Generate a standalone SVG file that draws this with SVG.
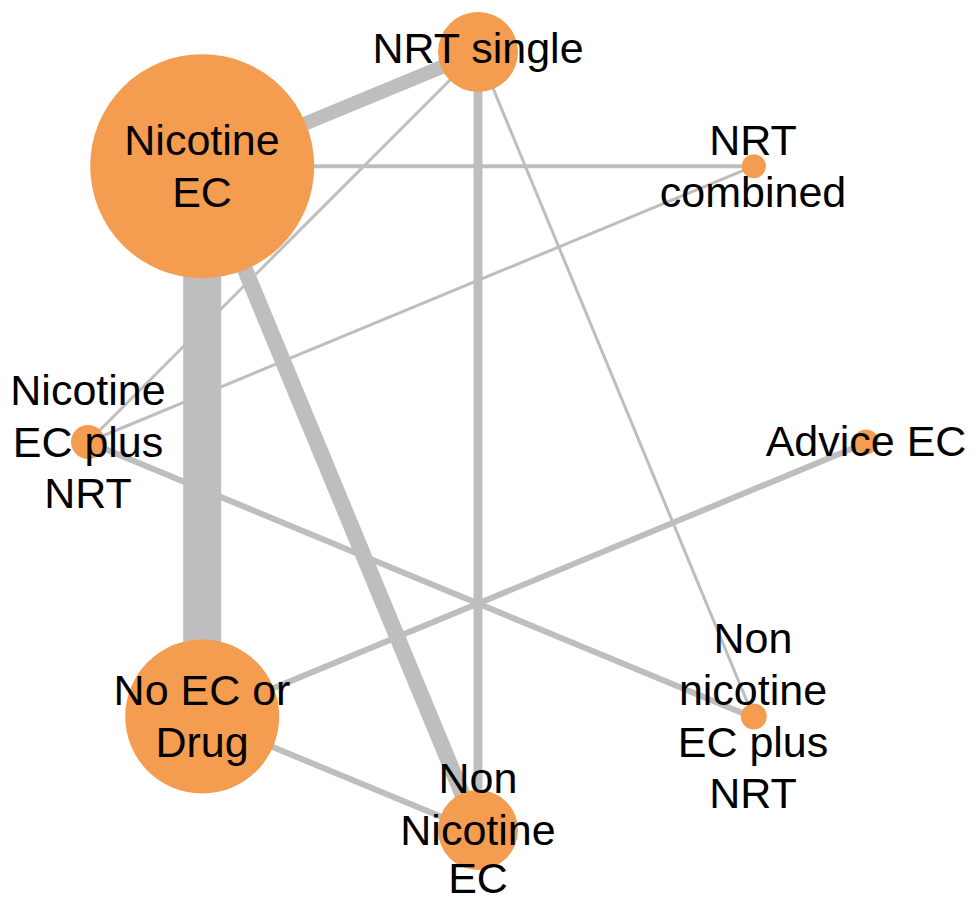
<svg xmlns="http://www.w3.org/2000/svg" width="971" height="902" viewBox="0 0 971 902">
<style>
.e{stroke:#bebebe;fill:none;stroke-linecap:butt}
.n{fill:#f49c4f}
.t{font-family:"Liberation Sans",Arial,sans-serif;font-size:43px;fill:#000;text-anchor:middle}
</style>
<rect width="971" height="902" fill="#fff"/>
<g id="edges">
<line class="e" x1="202.2" y1="166.2" x2="478" y2="52" stroke-width="14"/>
<line class="e" x1="202.2" y1="166.2" x2="753.8" y2="166.2" stroke-width="4"/>
<line class="e" x1="202.2" y1="166.2" x2="202.2" y2="717.8" stroke-width="38"/>
<line class="e" x1="202.2" y1="166.2" x2="478" y2="832" stroke-width="16"/>
<line class="e" x1="478" y1="52" x2="478" y2="832" stroke-width="9"/>
<line class="e" x1="478" y1="52" x2="88" y2="442" stroke-width="3"/>
<line class="e" x1="478" y1="52" x2="753.8" y2="717.8" stroke-width="3"/>
<line class="e" x1="753.8" y1="166.2" x2="88" y2="442" stroke-width="3"/>
<line class="e" x1="88" y1="442" x2="753.8" y2="717.8" stroke-width="6"/>
<line class="e" x1="868" y1="442" x2="202.2" y2="717.8" stroke-width="6"/>
<line class="e" x1="202.2" y1="717.8" x2="478" y2="832" stroke-width="6"/>
</g>
<g id="n-nrt-single"><circle class="n" cx="478" cy="52" r="40"/></g>
<g id="n-nicotine-ec"><circle class="n" cx="202.2" cy="166.2" r="112"/></g>
<g id="n-nrt-combined"><circle class="n" cx="753.8" cy="166.2" r="12"/></g>
<g id="n-nicotine-ec-plus-nrt"><circle class="n" cx="88" cy="442" r="17"/></g>
<g id="n-advice-ec"><circle class="n" cx="866" cy="442" r="12.5"/></g>
<g id="n-no-ec-or-drug"><circle class="n" cx="202.2" cy="716.5" r="77"/></g>
<g id="n-non-nicotine-ec"><circle class="n" cx="478" cy="830" r="40"/></g>
<g id="n-non-nicotine-ec-plus-nrt"><circle class="n" cx="753.8" cy="716.5" r="13"/></g>
<g id="labels">
<text class="t" x="478" y="63">NRT single</text>
<text class="t" x="202" y="155">Nicotine</text>
<text class="t" x="202" y="207">EC</text>
<text class="t" x="753" y="155">NRT</text>
<text class="t" x="753" y="207">combined</text>
<text class="t" x="88" y="405">Nicotine</text>
<text class="t" x="88" y="457">EC plus</text>
<text class="t" x="88" y="508">NRT</text>
<text class="t" x="866" y="456">Advice EC</text>
<text class="t" x="202" y="705">No EC or</text>
<text class="t" x="202" y="757">Drug</text>
<text class="t" x="478" y="793">Non</text>
<text class="t" x="478" y="845">Nicotine</text>
<text class="t" x="478" y="893">EC</text>
<text class="t" x="753" y="653">Non</text>
<text class="t" x="753" y="705">nicotine</text>
<text class="t" x="753" y="757">EC plus</text>
<text class="t" x="753" y="808">NRT</text>
</g>
</svg>
